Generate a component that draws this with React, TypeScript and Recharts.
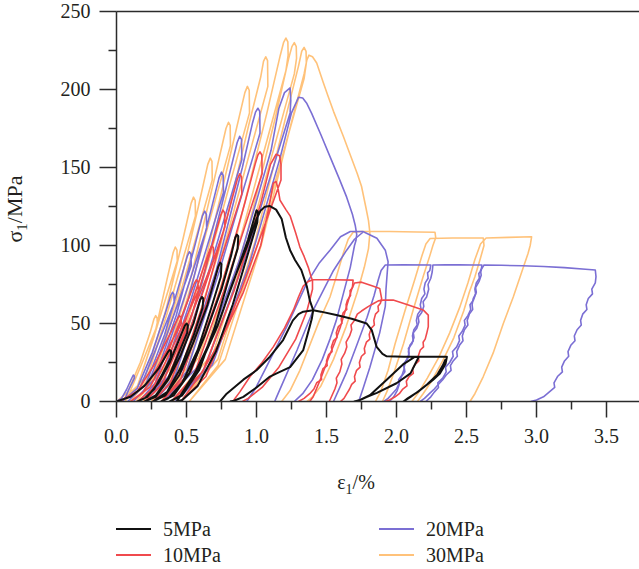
import React from 'react';
import { LineChart, Line, XAxis, YAxis, ReferenceLine } from 'recharts';

type Pt = [number, number];

// strain ε1 (%) , stress σ1 (MPa) — one array of strokes per confining pressure
const mpa5: Pt[][] = [
  [
    [0, 0], [0.1, 3], [0.2, 10], [0.3, 21], [0.37, 32], [0.38, 33], [0.39, 32.3], [0.388, 28],
    [0.33, 18], [0.27, 8], [0.2, 2], [0.15, 0],
    [0.22, 3], [0.3, 12], [0.38, 25], [0.44, 38], [0.488, 48.5], [0.5, 50], [0.51, 49], [0.505, 44],
    [0.44, 30], [0.37, 15], [0.28, 4], [0.2, 0],
    [0.28, 3], [0.37, 14], [0.46, 30], [0.55, 50], [0.597, 65], [0.61, 67], [0.62, 66], [0.615, 60],
    [0.55, 42], [0.46, 22], [0.36, 6], [0.26, 0],
    [0.35, 4], [0.45, 17], [0.55, 38], [0.65, 62], [0.727, 86.5], [0.74, 89], [0.75, 88], [0.745, 80],
    [0.67, 58], [0.58, 33], [0.47, 12], [0.37, 2], [0.32, 0],
    [0.41, 4], [0.52, 18], [0.63, 42], [0.75, 72], [0.82, 94], [0.848, 105], [0.86, 107], [0.87, 106], [0.865, 98],
    [0.79, 75], [0.7, 47], [0.59, 20], [0.47, 4], [0.38, 0],
    [0.46, 4], [0.58, 20], [0.71, 46], [0.84, 78], [0.94, 104], [0.985, 118], [1.0, 122.6], [1.01, 121.5], [1.006, 115],
    [0.93, 92], [0.83, 62], [0.71, 32], [0.58, 10], [0.47, 1], [0.43, 0],
    [0.57, 20], [0.72, 48], [0.83, 76], [0.93, 99], [1.0, 117], [1.03, 122.5], [1.06, 124.8], [1.096, 125.3],
    [1.14, 123], [1.18, 117], [1.21, 105], [1.24, 97], [1.275, 90.7], [1.32, 84.3], [1.36, 73.6], [1.38, 65], [1.405, 58.5],
    [1.395, 53], [1.38, 48], [1.334, 33], [1.24, 22], [1.144, 18], [1.096, 16], [1.0, 9], [0.906, 3], [0.84, 0.5], [0.81, 0],
  ],
  [
    [0.74, 0], [0.787, 5], [0.906, 14], [1.0, 20], [1.096, 28.7], [1.19, 39.4], [1.26, 52], [1.3, 56], [1.334, 57.6], [1.405, 58.5],
    [1.46, 57.6], [1.57, 55.4], [1.68, 53], [1.787, 50], [1.823, 45.8], [1.858, 35], [1.9, 30.5], [1.93, 29], [2.05, 28.7], [2.156, 28.7],
    [2.13, 28.6], [2.05, 24], [1.93, 14], [1.81, 4], [1.74, 1], [1.7, 0],
    [1.716, 0], [1.79, 3], [1.86, 5.5], [2.0, 11.7], [2.1, 18], [2.144, 26], [2.16, 28.7],
    [2.25, 28.7], [2.36, 28.7],
    [2.35, 24], [2.31, 18], [2.26, 13.8], [2.17, 7.4], [2.1, 3], [2.05, 0],
    [2.08, 2], [2.15, 6], [2.22, 11], [2.29, 17], [2.33, 23], [2.35, 27],
  ],
];

const mpa10: Pt[][] = [
  [
    [0.02, 0], [0.149, 6.6], [0.278, 24.8], [0.386, 44], [0.436, 53], [0.45, 55], [0.461, 54], [0.463, 50],
    [0.31, 24.8], [0.188, 5.5], [0.1, 0],
    [0.241, 9.4], [0.382, 35], [0.5, 62.4], [0.555, 75.5], [0.57, 78], [0.582, 76.8], [0.584, 71],
    [0.402, 35], [0.255, 7.8], [0.15, 0],
    [0.309, 12], [0.468, 45], [0.6, 80], [0.665, 97], [0.68, 100], [0.692, 98.5], [0.694, 91],
    [0.488, 45], [0.32, 10], [0.2, 0],
    [0.368, 14.7], [0.536, 55], [0.676, 98], [0.745, 119.5], [0.76, 122.7], [0.772, 121], [0.774, 112],
    [0.56, 55], [0.385, 12], [0.26, 0],
    [0.446, 17.5], [0.632, 66], [0.787, 117], [0.863, 142.5], [0.88, 146], [0.893, 144], [0.895, 133],
    [0.656, 66], [0.46, 14.6], [0.32, 0],
    [0.532, 19], [0.743, 72], [0.919, 128], [0.99, 152], [1.01, 158], [1.025, 160], [1.038, 158], [1.04, 146],
    [0.771, 72], [0.549, 16], [0.39, 0],
    [0.615, 19], [0.84, 71], [1.03, 127], [1.1, 152], [1.14, 158.5], [1.165, 157.5], [1.175, 152],
    [1.175, 142], [0.889, 71], [0.639, 16], [0.46, 0],
    [0.59, 16], [0.75, 40], [0.906, 70], [1.03, 100], [1.09, 125], [1.12, 140], [1.14, 141],
    [1.155, 136], [1.168, 129], [1.21, 123], [1.24, 119], [1.28, 108], [1.31, 99], [1.34, 93], [1.37, 86], [1.39, 80], [1.4, 77.5],
    [1.4, 72], [1.36, 58], [1.28, 40], [1.16, 22], [1.04, 9], [0.94, 2], [0.9, 0],
  ],
  [
    [0.83, 0], [0.88, 6], [0.954, 16], [1.04, 25], [1.12, 35], [1.2, 47], [1.264, 58.7], [1.3, 67], [1.334, 74], [1.37, 77], [1.406, 78], [1.55, 78], [1.69, 77.8],
    [1.685, 73], [1.668, 71], [1.672, 68], [1.65, 65], [1.64, 62], [1.645, 59], [1.62, 57], [1.605, 53], [1.61, 50], [1.585, 48], [1.57, 44], [1.575, 41],
    [1.55, 39], [1.535, 35], [1.54, 32], [1.515, 30], [1.5, 26], [1.505, 23], [1.475, 21], [1.46, 17], [1.465, 14], [1.43, 12], [1.41, 8], [1.38, 5], [1.34, 2], [1.3, 0],
  ],
  [
    [1.38, 0], [1.405, 3], [1.46, 15], [1.51, 27], [1.56, 38], [1.6, 48], [1.64, 60], [1.68, 72], [1.7, 76], [1.75, 76.5], [1.83, 74], [1.88, 72.5], [1.894, 66],
    [1.885, 63], [1.868, 61], [1.872, 58], [1.85, 56], [1.838, 52], [1.842, 49], [1.82, 47], [1.805, 43], [1.81, 40], [1.785, 38], [1.77, 34], [1.775, 31],
    [1.75, 29], [1.735, 25], [1.74, 22], [1.715, 20], [1.7, 16], [1.705, 13], [1.68, 11], [1.665, 8], [1.645, 5], [1.625, 2], [1.6, 0],
  ],
  [
    [1.52, 0], [1.54, 4], [1.56, 8], [1.575, 12], [1.57, 15], [1.595, 19], [1.61, 24], [1.605, 27], [1.63, 31], [1.645, 35], [1.64, 38], [1.665, 42],
    [1.68, 46], [1.675, 49], [1.7, 52], [1.72, 56], [1.75, 58], [1.8, 61], [1.84, 63], [1.87, 64.5], [1.905, 65],
    [1.976, 65], [2.08, 62], [2.19, 58.7], [2.227, 55.4], [2.227, 48], [2.216, 43.7],
    [2.205, 40], [2.19, 38], [2.193, 35], [2.17, 33], [2.155, 29], [2.16, 26], [2.135, 24], [2.115, 21], [2.12, 18], [2.09, 16], [2.07, 13], [2.075, 10],
    [2.045, 8], [2.02, 5], [1.99, 3], [1.95, 1], [1.92, 0],
  ],
];

const mpa20: Pt[][] = [
  [
    [0, 0], [0.036, 2], [0.072, 7.7], [0.102, 13.6], [0.12, 17], [0.128, 16.3], [0.128, 15],
    [0.088, 7.7], [0.06, 1.7], [0.04, 0],
    [0.148, 8.4], [0.256, 31.5], [0.346, 56], [0.388, 68], [0.4, 70], [0.41, 68.8], [0.412, 63.5],
    [0.272, 31.5], [0.16, 7], [0.08, 0],
    [0.212, 11.5], [0.344, 43], [0.454, 77], [0.505, 93], [0.52, 96], [0.532, 94.5], [0.534, 87],
    [0.36, 43], [0.22, 9.6], [0.12, 0],
    [0.273, 14.6], [0.426, 55], [0.554, 98], [0.614, 119], [0.63, 122], [0.642, 120], [0.644, 111],
    [0.442, 55], [0.278, 12], [0.16, 0],
    [0.337, 17.6], [0.514, 66], [0.662, 118], [0.733, 143.5], [0.75, 147], [0.762, 145], [0.764, 134],
    [0.534, 66], [0.345, 15], [0.21, 0],
    [0.411, 20], [0.612, 76.5], [0.78, 136], [0.862, 166], [0.88, 170], [0.893, 168], [0.895, 155],
    [0.636, 76.5], [0.42, 17], [0.27, 0],
    [0.492, 22.6], [0.714, 84.6], [0.899, 150], [0.97, 178], [0.993, 185.5], [1.01, 188], [1.023, 186], [1.025, 172],
    [0.738, 84.6], [0.5, 19], [0.33, 0],
    [0.603, 24], [0.876, 90], [1.104, 161], [1.16, 188], [1.2, 198], [1.24, 201],
    [1.245, 193], [1.24, 185], [0.912, 90], [0.625, 20], [0.42, 0],
    [0.684, 23.4], [0.948, 88], [1.168, 156], [1.25, 185], [1.3, 195],
    [1.33, 194.5], [1.36, 191], [1.394, 184.7], [1.46, 171], [1.525, 157], [1.59, 143], [1.644, 131], [1.685, 120], [1.705, 113], [1.716, 107],
    [1.71, 103], [1.7, 100], [1.67, 86], [1.62, 69], [1.57, 52], [1.525, 40], [1.47, 27], [1.4, 14], [1.33, 5], [1.27, 0],
  ],
  [
    [0.93, 0], [0.99, 8], [1.07, 22], [1.216, 48], [1.36, 76], [1.45, 89], [1.525, 97], [1.6, 105.6], [1.67, 109], [1.76, 109], [1.86, 104.6],
    [1.92, 97], [1.94, 89.6], [1.935, 84], [1.925, 72], [1.92, 61], [1.88, 44], [1.81, 22], [1.76, 8], [1.73, 0],
  ],
  [
    [1.13, 0], [1.144, 3], [1.29, 33], [1.406, 58.7], [1.55, 84], [1.644, 97], [1.7, 104], [1.76, 108.5],
  ],
  [
    [1.55, 0], [1.6, 10], [1.64, 18], [1.72, 37], [1.79, 54], [1.84, 68], [1.87, 78], [1.89, 84], [1.92, 87.5], [2.05, 87.6], [2.245, 87.5],
    [2.238, 84], [2.222, 82.5], [2.226, 79], [2.205, 76], [2.196, 72], [2.203, 69], [2.18, 66], [2.17, 62], [2.176, 59], [2.152, 56], [2.142, 52],
    [2.148, 49], [2.124, 46], [2.114, 42], [2.12, 39], [2.096, 36], [2.085, 32], [2.09, 29], [2.066, 26], [2.055, 22], [2.06, 19], [2.035, 16],
    [2.02, 12], [2.0, 8], [1.97, 5], [1.94, 2], [1.91, 0],
  ],
  [
    [1.95, 0], [1.98, 3], [2.005, 7], [2.02, 11], [2.015, 14], [2.04, 17], [2.055, 21], [2.05, 24], [2.075, 27], [2.09, 31], [2.085, 34], [2.11, 37],
    [2.125, 41], [2.12, 44], [2.145, 47], [2.16, 51], [2.155, 54], [2.18, 57], [2.195, 61], [2.19, 64], [2.215, 67], [2.23, 72], [2.225, 75],
    [2.245, 79], [2.255, 83], [2.26, 87.5], [2.35, 87.7], [2.45, 87.6], [2.55, 87.5], [2.61, 87.5],
    [2.605, 84], [2.588, 82], [2.592, 79], [2.57, 76], [2.56, 72], [2.565, 69], [2.548, 66], [2.54, 62], [2.544, 59], [2.52, 56], [2.505, 52],
    [2.51, 49], [2.485, 46], [2.47, 42], [2.475, 39], [2.45, 36], [2.43, 32], [2.435, 29], [2.405, 26], [2.385, 23], [2.39, 20], [2.355, 17],
    [2.33, 14], [2.3, 11], [2.27, 8], [2.235, 5], [2.2, 2], [2.17, 0],
  ],
  [
    [2.21, 0], [2.245, 3], [2.27, 6], [2.3, 9], [2.295, 12], [2.33, 15], [2.355, 19], [2.35, 22], [2.38, 25], [2.405, 29], [2.4, 32], [2.43, 35],
    [2.45, 39], [2.445, 42], [2.47, 45], [2.49, 49], [2.485, 52], [2.51, 55], [2.53, 59], [2.525, 62], [2.55, 65], [2.57, 70], [2.565, 73],
    [2.59, 77], [2.605, 81], [2.6, 84], [2.625, 87.5],
    [2.75, 87.3], [2.9, 87], [3.05, 86.5], [3.2, 85.8], [3.35, 84.8], [3.42, 84.3], [3.425, 80], [3.42, 76],
    [3.395, 72], [3.4, 69], [3.37, 66], [3.355, 62], [3.36, 59], [3.33, 56], [3.315, 52], [3.32, 49], [3.29, 46], [3.27, 42], [3.275, 39],
    [3.245, 36], [3.225, 32], [3.23, 29], [3.2, 26], [3.18, 22], [3.185, 19], [3.15, 16], [3.125, 12], [3.13, 9], [3.09, 6], [3.05, 3],
    [3.0, 1], [2.96, 0],
  ],
];

const mpa30: Pt[][] = [
  [
    [0, 0], [0.08, 6], [0.17, 25], [0.24, 44], [0.268, 53], [0.28, 55], [0.29, 53.5], [0.292, 49],
    [0.18, 24], [0.09, 5], [0.03, 0],
    [0.15, 10], [0.27, 42], [0.36, 78], [0.405, 95.5], [0.42, 99], [0.432, 97], [0.434, 90],
    [0.276, 44], [0.15, 10], [0.06, 0],
    [0.207, 16], [0.354, 59], [0.477, 105], [0.533, 127], [0.55, 131], [0.562, 129], [0.564, 119],
    [0.37, 59], [0.212, 13], [0.1, 0],
    [0.271, 19], [0.442, 70], [0.585, 125], [0.652, 152], [0.67, 156], [0.682, 154], [0.684, 142],
    [0.458, 70], [0.27, 16], [0.14, 0],
    [0.338, 21], [0.536, 81], [0.7, 143], [0.782, 175], [0.8, 179], [0.812, 177], [0.814, 164],
    [0.556, 81], [0.342, 18], [0.19, 0],
    [0.414, 24], [0.637, 91], [0.823, 162], [0.917, 198], [0.935, 202], [0.948, 199.5], [0.95, 185],
    [0.661, 91], [0.421, 20], [0.25, 0],
    [0.495, 27], [0.74, 99], [0.944, 177], [1.03, 208], [1.05, 218], [1.066, 221], [1.079, 218.5], [1.081, 202],
    [0.768, 99], [0.507, 22], [0.32, 0],
    [0.587, 28], [0.854, 105], [1.077, 186], [1.17, 222], [1.193, 230], [1.21, 233], [1.224, 230.5], [1.226, 222], [1.21, 212],
    [0.886, 105], [0.603, 23], [0.4, 0],
    [0.661, 28], [0.922, 104], [1.14, 184], [1.23, 220], [1.253, 227.5], [1.27, 230], [1.284, 227.5], [1.286, 220], [1.27, 210],
    [0.946, 104], [0.663, 23], [0.46, 0],
    [0.724, 27], [0.988, 102], [1.208, 182], [1.3, 215], [1.323, 224.5], [1.34, 227], [1.354, 224.5], [1.356, 217], [1.34, 207],
    [1.012, 102], [0.725, 23], [0.52, 0],
    [0.777, 27], [1.033, 100], [1.247, 178], [1.34, 210], [1.36, 219], [1.375, 222],
    [1.4, 221], [1.43, 217], [1.475, 205], [1.51, 196], [1.55, 186], [1.62, 170], [1.67, 158], [1.72, 146], [1.75, 138], [1.78, 125], [1.8, 116], [1.81, 108],
    [1.8, 98], [1.77, 86], [1.72, 70], [1.64, 48], [1.55, 27], [1.46, 10], [1.4, 3], [1.36, 0],
  ],
  [
    [1.18, 0], [1.24, 7], [1.31, 20], [1.38, 36], [1.45, 52], [1.525, 67], [1.57, 80], [1.62, 95], [1.655, 104], [1.69, 108.5], [1.75, 109],
    [1.95, 109], [2.15, 108.7], [2.275, 108.5], [2.28, 105], [2.26, 100], [2.24, 94], [2.19, 80], [2.12, 59], [2.05, 37], [1.98, 18], [1.93, 6], [1.9, 0],
  ],
  [
    [1.85, 0], [1.89, 7], [1.94, 20], [1.99, 37], [2.06, 58], [2.13, 78], [2.18, 93], [2.21, 101], [2.24, 104.5], [2.4, 104.8], [2.62, 104.8],
    [2.625, 100], [2.6, 92], [2.56, 80], [2.52, 70], [2.48, 58], [2.41, 41], [2.33, 26], [2.25, 13], [2.19, 5], [2.15, 0],
  ],
  [
    [2.11, 0], [2.16, 6], [2.22, 15], [2.3, 28], [2.38, 44], [2.45, 60], [2.51, 76], [2.56, 91], [2.6, 101], [2.64, 104.8], [2.8, 105.2], [2.965, 105.6],
    [2.955, 100], [2.94, 95], [2.906, 86], [2.834, 67], [2.763, 50], [2.69, 31], [2.62, 16], [2.56, 5], [2.525, 0],
  ],
];

const xTicks = [0, 0.25, 0.5, 0.75, 1, 1.25, 1.5, 1.75, 2, 2.25, 2.5, 2.75, 3, 3.25, 3.5, 3.75];
const yTicks = [0, 25, 50, 75, 100, 125, 150, 175, 200, 225, 250];

const AXIS = '#2b2b2b';
const TEXT = '#231f20';
const FONT = "'Liberation Serif', 'Times New Roman', 'DejaVu Serif', serif";

const series = [
  { name: '30MPa', color: '#ffc27a', width: 1.6, strokes: mpa30 },
  { name: '20MPa', color: '#7b6fd4', width: 1.6, strokes: mpa20 },
  { name: '10MPa', color: '#f04a4d', width: 1.6, strokes: mpa10 },
  { name: '5MPa', color: '#111111', width: 2, strokes: mpa5 },
];

const legendItems = [
  { name: '5MPa', color: '#111111', w: 2.5, left: 116, top: 529 },
  { name: '10MPa', color: '#f04a4d', w: 2, left: 116, top: 555 },
  { name: '20MPa', color: '#7b6fd4', w: 2, left: 379, top: 529 },
  { name: '30MPa', color: '#ffc27a', w: 2, left: 379, top: 555 },
];

const XTick = ({ x, y, payload }: any) => {
  const v = payload.value as number;
  const major = Math.round(v * 100) % 50 === 0;
  return (
    <g>
      <line x1={x} x2={x} y1={y} y2={y + (major ? 16 : 8)} stroke={AXIS} strokeWidth={1.5} />
      {major && (
        <text x={x} y={y + 41} textAnchor="middle" fontSize={20} fill={TEXT} style={{ fontFamily: FONT }}>
          {v.toFixed(1)}
        </text>
      )}
    </g>
  );
};

const YTick = ({ x, y, payload }: any) => {
  const v = payload.value as number;
  const major = v % 50 === 0;
  return (
    <g>
      <line x1={x} x2={x - (major ? 17 : 8)} y1={y} y2={y} stroke={AXIS} strokeWidth={1.5} />
      {major && (
        <text x={x - 26} y={y + 6.5} textAnchor="end" fontSize={20} fill={TEXT} style={{ fontFamily: FONT }}>
          {v}
        </text>
      )}
    </g>
  );
};

const YLabel = () => (
  <text
    x={22}
    y={209}
    transform="rotate(-90, 22, 209)"
    textAnchor="middle"
    fontSize={22}
    fill={TEXT}
    style={{ fontFamily: FONT }}
  >
    σ<tspan dy={5} fontSize={15}>1</tspan>
    <tspan dy={-5}>/MPa</tspan>
  </text>
);

const XLabel = () => (
  <text x={356} y={489} textAnchor="middle" fontSize={20} fill={TEXT} style={{ fontFamily: FONT }}>
    ε<tspan dy={5} fontSize={14}>1</tspan>
    <tspan dy={-5}>/%</tspan>
  </text>
);

export default function App() {
  return (
    <div
      style={{
        position: 'absolute',
        left: 0,
        top: 0,
        width: 639,
        height: 569,
        overflow: 'hidden',
        background: '#fff',
        fontFamily: FONT,
      }}
    >
      <LineChart width={660} height={569} margin={{ top: 11.5, right: 18.5, bottom: 127.5, left: 56.5 }}>
        <XAxis
          type="number"
          dataKey="x"
          domain={[0, 3.75]}
          ticks={xTicks}
          interval={0}
          tick={<XTick />}
          tickLine={false}
          tickSize={0}
          tickMargin={0}
          height={40}
          axisLine={{ stroke: AXIS, strokeWidth: 1.5 }}
          allowDataOverflow
          label={{ content: () => <XLabel /> }}
        />
        <YAxis
          type="number"
          dataKey="y"
          domain={[0, 250]}
          ticks={yTicks}
          interval={0}
          tick={<YTick />}
          tickLine={false}
          tickSize={0}
          tickMargin={0}
          width={60}
          axisLine={{ stroke: AXIS, strokeWidth: 1.5 }}
          allowDataOverflow
          label={{ content: () => <YLabel /> }}
        />
        <ReferenceLine y={250} stroke={AXIS} strokeWidth={1.5} />
        {series.map((s) =>
          s.strokes.map((stroke, i) => (
            <Line
              key={`${s.name}-${i}`}
              data={stroke.map(([x, y]) => ({ x, y }))}
              dataKey="y"
              type="linear"
              stroke={s.color}
              strokeWidth={s.width}
              strokeLinejoin="round"
              dot={false}
              activeDot={false}
              isAnimationActive={false}
              legendType="none"
            />
          ))
        )}
      </LineChart>
      {legendItems.map((it) => (
        <div
          key={it.name}
          style={{
            position: 'absolute',
            left: it.left,
            top: it.top - 12,
            height: 24,
            display: 'flex',
            alignItems: 'center',
            fontSize: 20,
            color: TEXT,
            whiteSpace: 'nowrap',
          }}
        >
          <span style={{ display: 'inline-block', width: 35, height: it.w, background: it.color, marginRight: 12 }} />
          {it.name}
        </div>
      ))}
    </div>
  );
}
